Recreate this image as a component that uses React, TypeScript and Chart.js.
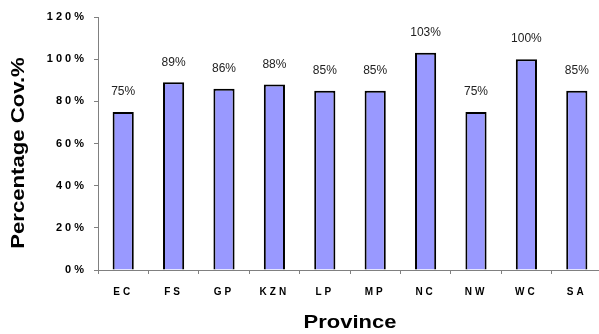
import React, { useEffect, useRef } from "react";
import { Chart, registerables } from "chart.js";

Chart.register(...registerables);

const provinces = ["EC", "FS", "GP", "KZN", "LP", "MP", "NC", "NW", "WC", "SA"];
const coverage = [75, 89, 86, 88, 85, 85, 103, 75, 100, 85];
const yTicks = [0, 20, 40, 60, 80, 100, 120];

const FONT = "'Liberation Sans', Arial, sans-serif";

const valueLabels = {
  id: "valueLabels",
  afterDatasetsDraw(chart: any) {
    const ctx = chart.ctx;
    const meta = chart.getDatasetMeta(0);
    ctx.save();
    ctx.font = `12px ${FONT}`;
    ctx.fillStyle = "#222";
    ctx.textAlign = "center";
    ctx.textBaseline = "middle";
    meta.data.forEach((bar: any, i: number) => {
      ctx.fillText(`${coverage[i]}%`, bar.x, bar.y - 20);
    });
    ctx.restore();
  },
};

// Letter-spaced tick labels and horizontally stretched titles, like the original
const axisText: Record<string, { labels: number; stretch: number; shift: number }> = {
  x: { labels: 3, stretch: 1.22, shift: 0 },
  y: { labels: 3, stretch: 1.23, shift: 9.5 },
};

const axisTextStyle = {
  id: "axisTextStyle",
  beforeDraw(chart: any) {
    for (const id of Object.keys(axisText)) {
      const scale = chart.scales[id];
      if (!scale || scale.__patched) continue;
      scale.__patched = true;
      const cfg = axisText[id];
      const origLabels = scale.drawLabels.bind(scale);
      const origTitle = scale.drawTitle.bind(scale);
      scale.drawLabels = (...args: any[]) => {
        const ctx = chart.ctx;
        ctx.save();
        ctx.letterSpacing = `${cfg.labels}px`;
        origLabels(...args);
        ctx.restore();
        ctx.letterSpacing = "0px";
      };
      scale.drawTitle = (...args: any[]) => {
        const ctx = chart.ctx;
        ctx.save();
        if (scale.isHorizontal()) {
          const cx = (scale.left + scale.right) / 2;
          ctx.translate(cx + cfg.shift, 0);
          ctx.scale(cfg.stretch, 1);
          ctx.translate(-cx, 0);
        } else {
          const cy = (scale.top + scale.bottom) / 2;
          ctx.translate(0, cy + cfg.shift);
          ctx.scale(1, cfg.stretch);
          ctx.translate(0, -cy);
        }
        origTitle(...args);
        ctx.restore();
      };
    }
  },
};

export default function App() {
  const ref = useRef<HTMLCanvasElement>(null);
  useEffect(() => {
    if (!ref.current) return;
    const chart = new Chart(ref.current, {
      type: "bar",
      data: {
        labels: provinces,
        datasets: [
          {
            data: coverage,
            backgroundColor: "#9999FF",
            borderColor: "#000",
            borderWidth: 2,
            barPercentage: 0.42,
            categoryPercentage: 1,
          },
        ],
      },
      options: {
        animation: false,
        responsive: false,
        layout: { padding: { top: 17, right: 2, left: 0, bottom: 0 } },
        plugins: { legend: { display: false }, tooltip: { enabled: false } },
        scales: {
          x: {
            grid: {
              drawOnChartArea: false,
              tickLength: 4,
              color: "#808080",
              offset: true,
            },
            border: { color: "#808080", width: 1 },
            ticks: {
              color: "#000",
              padding: 12,
              font: { family: FONT, size: 10, weight: "bold" },
              maxRotation: 0,
            },
            title: {
              display: true,
              text: "Province",
              color: "#000",
              font: { family: FONT, size: 18, weight: "bold" },
              padding: { top: 0, bottom: 0 },
            },
            afterFit(scale: any) {
              scale.height = 64;
            },
          },
          y: {
            min: 0,
            max: 120,
            afterBuildTicks(scale: any) {
              scale.ticks = yTicks.map((v) => ({ value: v }));
            },
            grid: {
              drawOnChartArea: false,
              tickLength: 4,
              color: "#808080",
            },
            border: { color: "#808080", width: 1 },
            ticks: {
              color: "#000",
              padding: 7,
              font: { family: FONT, size: 11, weight: "bold" },
              callback: (v: any) => `${v}%`,
            },
            title: {
              display: true,
              text: "Percentage Cov.%",
              color: "#000",
              font: { family: FONT, size: 18, weight: "bold" },
              padding: { top: 8, bottom: 0 },
            },
            afterFit(scale: any) {
              scale.width = 98;
            },
          },
        },
      },
      plugins: [axisTextStyle, valueLabels],
    });
    return () => chart.destroy();
  }, []);
  return (
    <div
      style={{
        position: "fixed",
        left: 0,
        top: 0,
        width: 599,
        height: 334,
        overflow: "hidden",
        background: "#fff",
      }}
    >
      <canvas ref={ref} width={604} height={334} style={{ width: 604, height: 334, display: "block" }} />
    </div>
  );
}
